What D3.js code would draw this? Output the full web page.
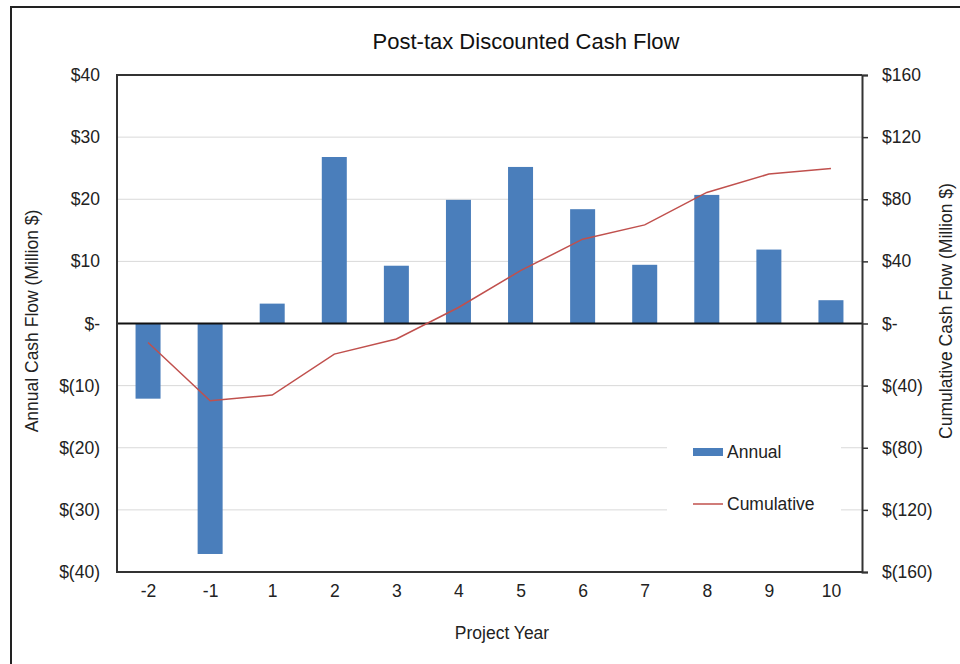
<!DOCTYPE html>
<html><head><meta charset="utf-8">
<script src="https://cdn.jsdelivr.net/npm/d3@7"></script>
<style>body{margin:0;background:#fff}svg{display:block;font-family:"Liberation Sans",Arial,sans-serif}</style>
</head><body>
<svg id="c" width="960" height="664"></svg>
<script>
const years = ["-2","-1","1","2","3","4","5","6","7","8","9","10"];
const annual = [-12.1,-37.1,3.2,26.8,9.3,19.9,25.2,18.4,9.45,20.7,11.9,3.75];
const cumulative = [-12.2,-49.8,-46.1,-19.7,-10.0,10.3,34.0,54.3,63.5,84.4,96.2,99.8];
const leftTicks = [40,30,20,10,0,-10,-20,-30,-40];
const rightTicks = [160,120,80,40,0,-40,-80,-120,-160];

const svg = d3.select("#c");
const L=117, R=862, T=75, B=572;
const FS = 17.5;
const fmt = v => v===0 ? "$-" : (v<0 ? "$(" + Math.abs(v) + ")" : "$" + v);

svg.append("rect").attr("x",11).attr("y",7).attr("width",960).attr("height",700)
  .attr("fill","none").attr("stroke","#222").attr("stroke-width",2);

const x = d3.scaleBand().domain(years).range([L,R]).paddingInner(0.6).paddingOuter(0.3);
const xc = d3.scalePoint().domain(years).range([L,R]).padding(0.5);
const yL = d3.scaleLinear().domain([-40,40]).range([B,T]);
const yR = d3.scaleLinear().domain([-160,160]).range([B,T]);

// gridlines
svg.append("g").selectAll("line").data(leftTicks.filter(d=>d!==0 && Math.abs(d)!==40)).join("line")
  .attr("x1",L).attr("x2",R).attr("y1",d=>yL(d)).attr("y2",d=>yL(d))
  .attr("stroke","#d9d9d9").attr("stroke-width",1);

// legend background (hides gridlines)
svg.append("rect").attr("x",667).attr("y",430).attr("width",174).attr("height",95).attr("fill","#fff");

// bars
svg.append("g").selectAll("rect").data(years).join("rect")
  .attr("x",d=>x(d)+ (x.bandwidth()-25)/2).attr("width",25)
  .attr("y",(d,i)=>yL(Math.max(0,annual[i])))
  .attr("height",(d,i)=>Math.abs(yL(annual[i])-yL(0)))
  .attr("fill","#4a7ebb");

// zero line
svg.append("line").attr("x1",L).attr("x2",R).attr("y1",yL(0)).attr("y2",yL(0))
  .attr("stroke","#111").attr("stroke-width",1.8);

// cumulative line
svg.append("path").datum(cumulative)
  .attr("d",d3.line().x((d,i)=>xc(years[i])).y(d=>yR(d)))
  .attr("fill","none").attr("stroke","#c0504d").attr("stroke-width",1.5);

// plot frame
svg.append("path").attr("d",`M${R},${T}H${L}V${B}H${R}`).attr("fill","none").attr("stroke","#333").attr("stroke-width",2);

// left axis labels
svg.append("g").attr("transform",`translate(${L},0)`)
  .call(d3.axisLeft(yL).tickValues(leftTicks).tickFormat(fmt).tickSize(0).tickPadding(17))
  .call(g=>g.select(".domain").remove())
  .selectAll("text").attr("font-size",FS).attr("fill","#222").attr("font-family","Liberation Sans, Arial, sans-serif");

// right axis
svg.append("g").attr("transform",`translate(${R},0)`)
  .call(d3.axisRight(yR).tickValues(rightTicks).tickFormat(fmt).tickSize(6).tickPadding(14))
  .call(g=>g.select(".domain").attr("stroke","#333").attr("stroke-width",2))
  .call(g=>g.selectAll(".tick line").attr("stroke","#333").attr("stroke-width",1.5))
  .selectAll("text").attr("font-size",FS).attr("fill","#222").attr("font-family","Liberation Sans, Arial, sans-serif");

// x axis labels
svg.append("g").attr("transform",`translate(0,${B})`)
  .call(d3.axisBottom(xc).tickSize(0).tickPadding(13))
  .call(g=>g.select(".domain").remove())
  .selectAll("text").attr("font-size",FS).attr("fill","#222").attr("font-family","Liberation Sans, Arial, sans-serif");

// titles
svg.append("text").attr("x",526).attr("y",49).attr("text-anchor","middle")
  .attr("font-size",22).attr("fill","#111").text("Post-tax Discounted Cash Flow");
svg.append("text").attr("x",502).attr("y",639).attr("text-anchor","middle")
  .attr("font-size",FS).attr("fill","#222").text("Project Year");
svg.append("text").attr("transform",`translate(38,321) rotate(-90)`).attr("text-anchor","middle")
  .attr("font-size",FS).attr("fill","#222").text("Annual Cash Flow (Million $)");
svg.append("text").attr("transform",`translate(952,311) rotate(-90)`).attr("text-anchor","middle")
  .attr("font-size",FS).attr("fill","#222").text("Cumulative Cash Flow (Million $)");

// legend
const lg = svg.append("g");
lg.append("rect").attr("x",693).attr("y",448).attr("width",30).attr("height",8).attr("fill","#4a7ebb");
lg.append("text").attr("x",727).attr("y",458).attr("font-size",FS).attr("fill","#222").text("Annual");
lg.append("line").attr("x1",693).attr("x2",723).attr("y1",504).attr("y2",504).attr("stroke","#c0504d").attr("stroke-width",1.5);
lg.append("text").attr("x",727).attr("y",510).attr("font-size",FS).attr("fill","#222").text("Cumulative");
</script>
</body></html>
